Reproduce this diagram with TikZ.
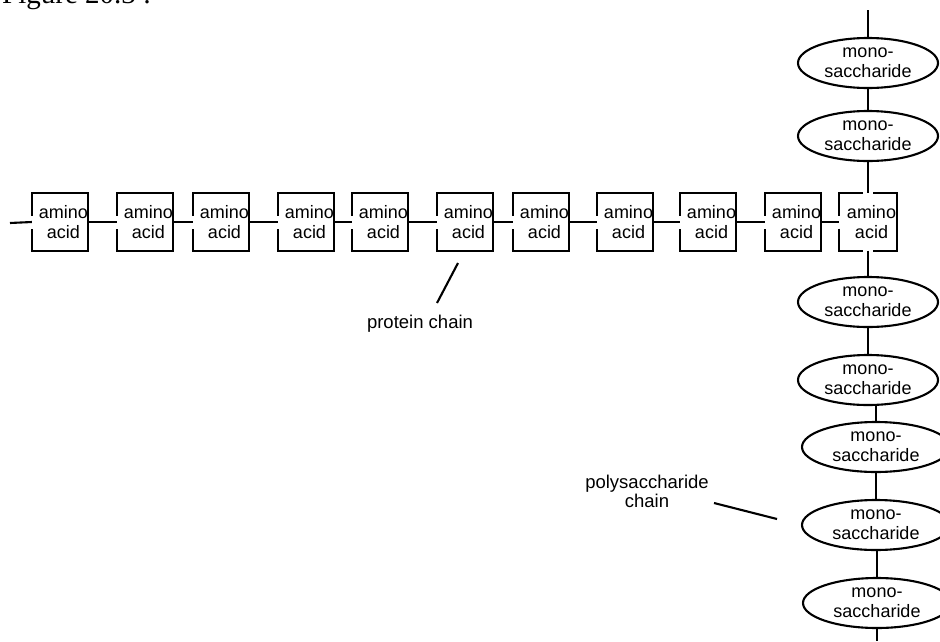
\documentclass[tikz,border=0pt]{standalone}
\usepackage{fontspec}
\setmainfont{Liberation Sans}
\newfontfamily\figfont{Liberation Serif}
\usetikzlibrary{shapes.geometric}

\begin{document}
\begin{tikzpicture}[
  x=1pt, y=-1pt,
  font=\fontsize{18}{20}\selectfont,
  link/.style={line width=2.1pt},
  unit/.style={minimum width=56pt, minimum height=57pt, inner sep=0pt},
  unittext/.style={xshift=3.5pt, align=center, inner sep=0pt},
  sugar/.style={ellipse, draw, line width=2.1pt, minimum width=140pt, minimum height=50pt, inner sep=0pt, align=center},
  note/.style={align=center, inner sep=1pt, font=\fontsize{18.5}{19}\selectfont}
]
\useasboundingbox (0,0) rectangle (940,641);
\clip (0,0) rectangle (940,641);

% caption, cut off at the top
\node[anchor=base west, inner sep=0pt, font=\figfont\fontsize{29}{29}\selectfont] (fig) at (2,3) {Figure 20.3 :};

% protein chain
\foreach \i/\x in {1/60,2/145,3/221,4/306,5/380,6/465,7/541,8/625,9/708,10/793} {
  \node[unit, label={[unittext]center:{amino\\acid}}] (a\i) at (\x,222) {};
  \draw[link] ([yshift=6.5pt]a\i.west) -- (a\i.north west) -- (a\i.north east)
    -- (a\i.south east) -- (a\i.south west) -- ([yshift=-6.5pt]a\i.west);
}
\node[unit, minimum width=57pt, label={[unittext]center:{amino\\acid}}] (a11) at (868,222) {};
\draw[link] ([xshift=-5pt]a11.north) -- (a11.north west) -- ([yshift=6.5pt]a11.west);
\draw[link] ([yshift=-6.5pt]a11.west) -- (a11.south west) -- ([xshift=-5pt]a11.south);
\draw[link] ([xshift=5pt]a11.north) -- (a11.north east) -- (a11.south east) -- ([xshift=5pt]a11.south);

\coordinate (lead) at (10,223);
\draw[link] (lead) -- (a1.west);
\foreach \i [evaluate=\i as \j using int(\i+1)] in {1,...,10}
  \draw[link] (a\i.east) -- (a\j.west);

% polysaccharide chain
\node[sugar] (m1) at (868,63) {mono-\\saccharide};
\node[sugar] (m2) at (868,136) {mono-\\saccharide};
\node[sugar] (m3) at (868,302) {mono-\\saccharide};
\node[sugar] (m4) at (868,380) {mono-\\saccharide};
\node[sugar, minimum width=148pt] (m5) at (876,447) {mono-\\saccharide};
\node[sugar, minimum width=148pt] (m6) at (876,525) {mono-\\saccharide};
\node[sugar, minimum width=148pt] (m7) at (877,603) {mono-\\saccharide};

\coordinate (topend) at (868,10);
\coordinate (botend) at (877,641);
\draw[link] (topend) -- (m1.north);
\draw[link] (m1.south) -- (m2.north);
\draw[link] (m2.south) -- (a11.north);
\draw[link] (a11.south) -- (m3.north);
\draw[link] (m3.south) -- (m4.north);
\draw[link] (m5.north) -- (m5.north |- m4.south);
\draw[link] (m5.south) -- (m6.north);
\draw[link] (m7.north) -- (m7.north |- m6.south);
\draw[link] (m7.south) -- (botend);

% labels
\node[note] (pc) at (420,324) {protein chain};
\coordinate (pcfoot) at (437,303);
\coordinate (pctip) at (458,263);
\draw[link] (pcfoot) -- (pctip);

\node[note] (ps) at (647,491) {polysaccharide\\chain};
\coordinate (psfoot) at (714,503);
\coordinate (pstip) at (777,519);
\draw[link] (psfoot) -- (pstip);
\end{tikzpicture}
\end{document}
